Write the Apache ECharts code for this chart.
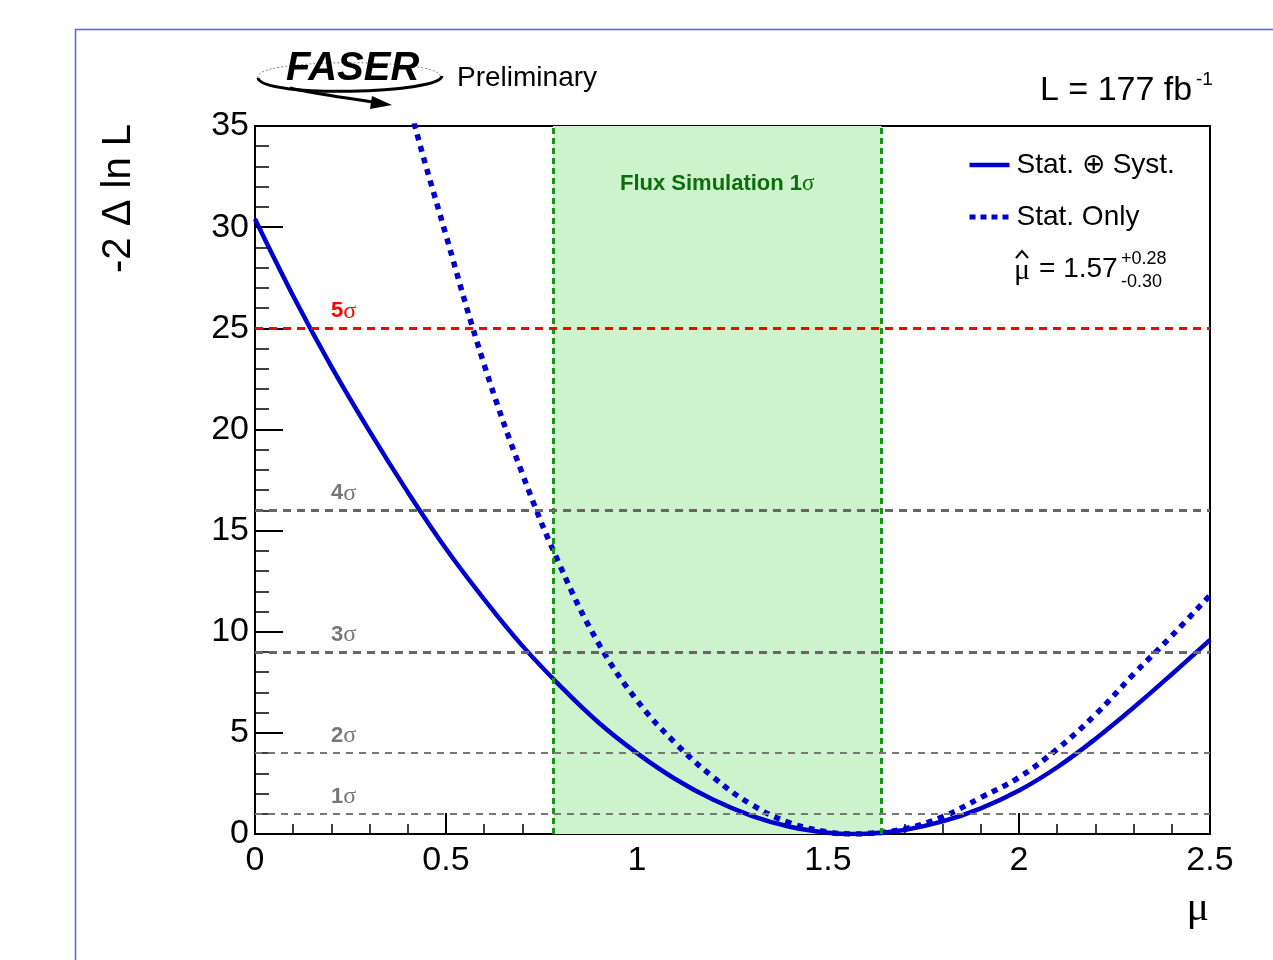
<!DOCTYPE html>
<html>
<head>
<meta charset="utf-8">
<title>FASER -2 Delta ln L scan</title>
<script src="https://cdn.jsdelivr.net/npm/echarts@6/dist/echarts.min.js"></script>
<style>
  html, body { margin: 0; padding: 0; background: #fff; }
  #chart { width: 1273px; height: 960px; }
</style>
</head>
<body>
<div id="chart"></div>
<script>
// signal strength grid (mu) and the two profile likelihood scans
const muValues = [0, 0.1, 0.2, 0.3, 0.4, 0.5, 0.6, 0.7, 0.8, 0.9, 1.0, 1.1, 1.2, 1.3, 1.4, 1.5, 1.57,
  1.6, 1.7, 1.8, 1.9, 2.0, 2.1, 2.2, 2.3, 2.4, 2.5];
const statSyst = [30.4, 26.6, 23.1, 19.9, 16.9, 14.1, 11.6, 9.3, 7.3, 5.5, 4.0, 2.72, 1.69, 0.90, 0.36, 0.06, 0,
  0.01, 0.20, 0.62, 1.27, 2.15, 3.3, 4.7, 6.25, 7.9, 9.6];
const statOnly = [null, null, null, 45.0, 36.4, 29.6, 23.2, 17.8, 13.2, 9.4, 6.6, 4.5, 2.8, 1.45, 0.55, 0.1, 0,
  0.02, 0.25, 0.85, 1.8, 2.8, 4.2, 5.9, 7.9, 9.8, 11.8];

// n-sigma reference levels
const sigmaNumbers = ['1', '2', '3', '4', '5'];
const sigmaLevels = [1, 4, 9, 16, 25];

// flux simulation 1 sigma band
const fluxBand = [0.78, 1.64];

const xTicks = [0, 0.5, 1, 1.5, 2, 2.5];
const yTicks = [0, 5, 10, 15, 20, 25, 30, 35];

const FONT = '"Liberation Sans", Arial, Helvetica, sans-serif';
const SERIF = '"Liberation Serif", "DejaVu Serif", serif';
const BLUE = '#0000cc';

const chart = echarts.init(document.getElementById('chart'), null, { renderer: 'canvas' });

function pairs(ys) {
  return muValues.map((m, i) => [m, ys[i]]);
}

const sigmaStyles = sigmaLevels.map((lvl) => {
  if (lvl === 25) return { color: '#ff0000', width: 3, type: [8, 6], label: '#ff0000' };
  if (lvl >= 9) return { color: '#666666', width: 3, type: [8, 6], label: '#777777' };
  return { color: '#777777', width: 2, type: [7, 6], label: '#777777' };
});

const option = {
  animation: false,
  backgroundColor: '#ffffff',
  grid: {
    left: 255,
    right: 63,
    top: 126,
    bottom: 126,
    show: true,
    borderColor: '#000',
    borderWidth: 2,
    backgroundColor: 'transparent'
  },
  legend: {
    left: 962,
    top: 146,
    orient: 'vertical',
    itemWidth: 40,
    itemHeight: 14,
    itemGap: 24,
    itemStyle: { opacity: 0 },
    textStyle: { fontFamily: FONT, fontSize: 28, color: '#000', padding: [0, 0, 0, 2] },
    data: [
      { name: 'Stat. ⊕ Syst.', lineStyle: { width: 4.5, type: 'solid', color: BLUE } },
      { name: 'Stat. Only', lineStyle: { width: 5, type: [6, 5], color: BLUE } }
    ]
  },
  xAxis: {
    type: 'value',
    min: 0,
    max: 2.5,
    interval: 0.5,
    axisLine: { lineStyle: { color: '#000', width: 2 } },
    axisTick: { inside: true, length: 21, lineStyle: { color: '#000', width: 2 } },
    minorTick: { show: true, splitNumber: 5, length: 10, lineStyle: { color: '#000', width: 1.5 } },
    splitLine: { show: false },
    axisLabel: {
      fontFamily: FONT, fontSize: 34, color: '#000', margin: 10,
      formatter: (v) => xTicks.includes(v) ? String(v) : ''
    }
  },
  yAxis: {
    type: 'value',
    min: 0,
    max: 35,
    interval: 5,
    axisLine: { show: true, lineStyle: { color: '#000', width: 2 } },
    axisTick: { show: true, inside: true, length: 28, lineStyle: { color: '#000', width: 2 } },
    minorTick: { show: true, splitNumber: 5, length: 14, lineStyle: { color: '#000', width: 1.5 } },
    splitLine: { show: false },
    axisLabel: {
      fontFamily: FONT, fontSize: 34, color: '#000', margin: 6,
      formatter: (v) => yTicks.includes(v) ? String(v) : ''
    }
  },
  series: [
    {
      name: 'band',
      type: 'line',
      data: [],
      silent: true,
      markArea: {
        silent: true,
        itemStyle: { color: '#ccf3cc' },
        label: {
          show: true,
          position: 'insideTop',
          distance: 46,
          formatter: '{t|Flux Simulation 1}{s|σ}',
          rich: {
            t: { fontFamily: FONT, fontSize: 22, fontWeight: 'bold', color: '#0a6e0a' },
            s: { fontFamily: SERIF, fontSize: 23, color: '#0a6e0a' }
          }
        },
        data: [[{ xAxis: fluxBand[0] }, { xAxis: fluxBand[1] }]]
      },
      markLine: {
        silent: true,
        symbol: 'none',
        label: { show: false },
        lineStyle: { color: '#149614', width: 3, type: [6, 4] },
        data: fluxBand.map((x) => ({ xAxis: x }))
      },
      z: 1
    },
    {
      name: 'levels',
      type: 'line',
      data: [],
      silent: true,
      markLine: {
        silent: true,
        symbol: 'none',
        data: sigmaLevels.map((lvl, i) => ({
          yAxis: lvl,
          lineStyle: { color: sigmaStyles[i].color, width: sigmaStyles[i].width, type: sigmaStyles[i].type },
          label: {
            show: true,
            position: 'insideStartTop',
            formatter: '{n|' + sigmaNumbers[i] + '}{s|σ}',
            distance: [76, 5],
            rich: {
              n: { fontFamily: FONT, fontSize: 22, fontWeight: 'bold', color: sigmaStyles[i].label },
              s: { fontFamily: SERIF, fontSize: 24, color: sigmaStyles[i].label }
            }
          }
        }))
      },
      z: 2
    },
    {
      name: 'Stat. Only',
      type: 'line',
      data: pairs(statOnly),
      smooth: 0.4,
      showSymbol: false,
      symbol: 'none',
      lineStyle: { color: BLUE, width: 5.5, type: [6, 6] },
      itemStyle: { color: BLUE },
      z: 3
    },
    {
      name: 'Stat. ⊕ Syst.',
      type: 'line',
      data: pairs(statSyst),
      smooth: 0.4,
      showSymbol: false,
      symbol: 'none',
      lineStyle: { color: BLUE, width: 4.5 },
      itemStyle: { color: BLUE },
      z: 4
    }
  ],
  graphic: [
    // outer pad frame
    {
      type: 'rect', silent: true,
      shape: { x: 75.5, y: 29.5, width: 1400, height: 1100 },
      style: { fill: 'none', stroke: '#5a5aff', lineWidth: 1.5 }
    },
    // FASER logo (approximation)
    {
      type: 'bezierCurve', silent: true,
      shape: { x1: 258, y1: 78, x2: 440, y2: 76, cpx1: 250, cpy1: 58, cpx2: 440, cpy2: 58 },
      style: { stroke: '#888', lineWidth: 1, lineDash: [2, 2], fill: 'none' }
    },
    {
      type: 'bezierCurve', silent: true,
      shape: { x1: 258, y1: 78, x2: 442, y2: 76, cpx1: 262, cpy1: 98, cpx2: 440, cpy2: 94 },
      style: { stroke: '#000', lineWidth: 3, fill: 'none' }
    },
    {
      type: 'bezierCurve', silent: true,
      shape: { x1: 290, y1: 88, x2: 378, y2: 103, cpx1: 320, cpy1: 95, cpx2: 350, cpy2: 98 },
      style: { stroke: '#000', lineWidth: 3, fill: 'none' }
    },
    {
      type: 'polygon', silent: true,
      shape: { points: [[372, 96], [392, 105], [370, 109]] },
      style: { fill: '#000' }
    },
    {
      type: 'text', x: 286, y: 69, silent: true,
      style: {
        text: 'FASER', fill: '#000', font: 'italic bold 40px ' + FONT,
        align: 'left', verticalAlign: 'middle'
      }
    },
    {
      type: 'text', x: 457, y: 78, silent: true,
      style: {
        text: 'Preliminary', fill: '#000', font: '28px ' + FONT,
        align: 'left', verticalAlign: 'middle'
      }
    },
    // luminosity
    {
      type: 'text', x: 1040, y: 91, silent: true,
      style: { text: 'L = 177 fb', fill: '#000', font: '34px ' + FONT, align: 'left', verticalAlign: 'middle' }
    },
    {
      type: 'text', x: 1196, y: 80, silent: true,
      style: { text: '-1', fill: '#000', font: '19px ' + FONT, align: 'left', verticalAlign: 'middle' }
    },
    // best fit mu: mu with hat, value, asymmetric errors
    {
      type: 'text', x: 1014, y: 271, silent: true,
      style: { text: 'μ', fill: '#000', font: '30px ' + SERIF, align: 'left', verticalAlign: 'middle' }
    },
    {
      type: 'polyline', silent: true,
      shape: { points: [[1016, 258], [1022, 251], [1028, 258]] },
      style: { stroke: '#000', lineWidth: 2, fill: 'none' }
    },
    {
      type: 'text', x: 1039, y: 269, silent: true,
      style: { text: '= 1.57', fill: '#000', font: '28px ' + FONT, align: 'left', verticalAlign: 'middle' }
    },
    {
      type: 'text', x: 1121, y: 259, silent: true,
      style: { text: '+0.28', fill: '#000', font: '18px ' + FONT, align: 'left', verticalAlign: 'middle' }
    },
    {
      type: 'text', x: 1121, y: 282, silent: true,
      style: { text: '-0.30', fill: '#000', font: '18px ' + FONT, align: 'left', verticalAlign: 'middle' }
    },
    // axis titles
    {
      type: 'text', x: 119, y: 124, rotation: Math.PI / 2, silent: true,
      style: { text: '-2 Δ ln L', fill: '#000', font: '40px ' + FONT, align: 'right', verticalAlign: 'middle' }
    },
    {
      type: 'text', x: 1209, y: 909, silent: true,
      style: { text: 'μ', fill: '#000', font: '42px ' + SERIF, align: 'right', verticalAlign: 'middle' }
    }
  ]
};

chart.setOption(option);
</script>
</body>
</html>
